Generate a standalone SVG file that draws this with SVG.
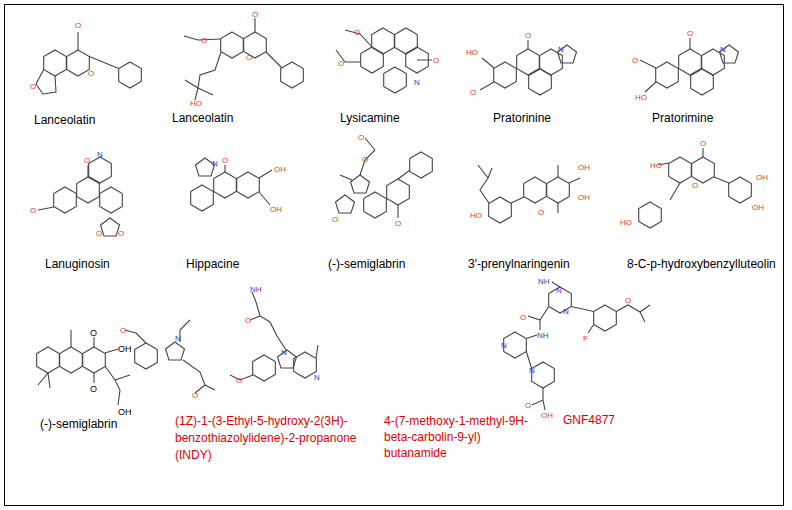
<svg xmlns="http://www.w3.org/2000/svg" width="792" height="510" viewBox="0 0 792 510">
<style>
.b{fill:none;stroke:#444;stroke-width:1.1}
.lb{font-family:"Liberation Sans",Arial,sans-serif;font-size:12px;fill:#000}
.rd{font-family:"Liberation Sans",Arial,sans-serif;font-size:12px;fill:#e00000}
.o{font-family:"Liberation Sans",Arial,sans-serif;font-size:8px;fill:#e33}
.n{font-family:"Liberation Sans",Arial,sans-serif;font-size:8px;fill:#33d}
.k{font-family:"Liberation Sans",Arial,sans-serif;font-size:9px;fill:#000}
</style>
<defs>
<polygon id="h" points="0,-13 11.3,-6.5 11.3,6.5 0,13 -11.3,6.5 -11.3,-6.5" fill="none" stroke="#444" stroke-width="1.1"/>
<polygon id="p" points="0,-10 9.5,-3 6,8 -6,8 -9.5,-3" fill="none" stroke="#444" stroke-width="1.1"/>
</defs>
<rect x="4.5" y="4.5" width="779" height="501" fill="#fff" stroke="#000"/>
<g id="c1"><use href="#h" x="55" y="63"/><use href="#h" x="78" y="63"/><use href="#h" x="130" y="75"/>
<path class="b" d="M89.3 56.5 L118.7 68.5 M78 50 V32 M43.7 69.5 L36 84 L43 94 L56 92 L55 76"/><text class="o" x="75" y="28">O</text><text class="o" x="88" y="76">O</text><text class="o" x="30" y="89">O</text>
<text class="lb" x="34" y="124">Lanceolatin</text></g>
<g id="c2"><use href="#h" x="232" y="45"/><use href="#h" x="255" y="45"/><use href="#h" x="292" y="75"/>
<path class="b" d="M266 52 L282 68 M255 32 V18 M221 39 L198 40 L184 36 M221 52 L215 70 L200 75 L198 88 L185 80 M198 88 L213 95 M198 88 L195 100"/>
<text class="o" x="252" y="17">O</text><text class="o" x="246" y="60">O</text><text class="o" x="201" y="43">O</text><text class="o" x="190" y="106">HO</text>
<text class="lb" x="172" y="122">Lanceolatin</text></g>
<g id="c3"><use href="#h" x="372" y="60"/><use href="#h" x="383" y="41"/><use href="#h" x="406" y="41"/><use href="#h" x="395" y="80"/><use href="#h" x="417" y="60"/>
<path class="b" d="M372 47 L360 34 L345 30 M361 62 L345 62 L336 50 M417 60 L432 60"/>
<text class="o" x="354" y="35">O</text><text class="o" x="338" y="66">O</text><text class="o" x="433" y="63">O</text><text class="n" x="414" y="85">N</text>
<text class="lb" x="340" y="122">Lysicamine</text></g>
<g id="c4"><use href="#h" x="505" y="75"/><use href="#h" x="528" y="62"/><use href="#h" x="540" y="82"/><use href="#h" x="551" y="62"/><use href="#p" x="567" y="55"/>
<path class="b" d="M528 49 V40 M494 68 L482 58 M494 82 L480 90"/>
<text class="o" x="525" y="38">O</text><text class="n" x="558" y="52">N</text><text class="o" x="466" y="55">HO</text><text class="o" x="470" y="95">O</text>
<text class="lb" x="493" y="122">Pratorinine</text></g>
<g id="c5"><use href="#h" x="667" y="75"/><use href="#h" x="690" y="62"/><use href="#h" x="702" y="82"/><use href="#h" x="713" y="62"/><use href="#p" x="729" y="55"/>
<path class="b" d="M690 49 V38 M656 68 L640 60 M656 82 L645 92"/>
<text class="o" x="687" y="36">O</text><text class="n" x="720" y="52">N</text><text class="o" x="632" y="63">O</text><text class="o" x="635" y="100">HO</text>
<text class="lb" x="652" y="122">Pratorimine</text></g>
<g id="c6"><use href="#h" x="65" y="200"/><use href="#h" x="88" y="190"/><use href="#h" x="100" y="170"/><use href="#h" x="111" y="200"/><use href="#p" x="110" y="228"/>
<path class="b" d="M88 177 V165 M54 207 L38 210"/>
<text class="o" x="84" y="163">O</text><text class="n" x="97" y="157">N</text><text class="o" x="30" y="213">O</text><text class="o" x="96" y="236">O</text><text class="o" x="118" y="236">O</text>
<text class="lb" x="45" y="268">Lanuginosin</text></g>
<g id="c7"><use href="#p" x="205" y="168"/><use href="#h" x="202" y="198"/><use href="#h" x="225" y="185"/><use href="#h" x="248" y="185"/>
<path class="b" d="M225 172 V165 M259 178 L272 170 M259 192 L270 205"/>
<text class="n" x="212" y="166">N</text><text class="o" x="222" y="163">O</text><text class="o" x="274" y="172">OH</text><text class="o" x="270" y="212">OH</text>
<text class="lb" x="186" y="268">Hippacine</text></g>
<g id="c8"><use href="#h" x="375" y="205"/><use href="#h" x="398" y="192"/><use href="#h" x="421" y="165"/><use href="#p" x="360" y="185"/><use href="#p" x="345" y="205"/>
<path class="b" d="M398 179 L410 170 M398 205 V218 M360 175 L365 160 L375 150 M375 150 L365 138 M352 180 L340 175"/>
<text class="o" x="395" y="226">O</text><text class="o" x="362" y="162">O</text><text class="o" x="358" y="140">O</text><text class="o" x="332" y="222">O</text>
<text class="lb" x="328" y="268">(-)-semiglabrin</text></g>
<g id="c9"><use href="#h" x="500" y="210"/><use href="#h" x="535" y="190"/><use href="#h" x="558" y="190"/>
<path class="b" d="M511 203 L524 197 M489 203 L480 190 L488 178 L478 165 M488 178 L492 168 M558 177 V165 M569 183 L580 178 M558 203 V213"/>
<text class="o" x="470" y="218">HO</text><text class="o" x="538" y="215">O</text><text class="o" x="578" y="170">OH</text><text class="o" x="578" y="200">OH</text>
<text class="lb" x="468" y="268">3'-prenylnaringenin</text></g>
<g id="c10"><use href="#h" x="680" y="170"/><use href="#h" x="703" y="170"/><use href="#h" x="740" y="190"/><use href="#h" x="650" y="215"/>
<path class="b" d="M714 177 L729 183 M680 183 L670 200 M703 157 V148 M669 163 L658 165"/>
<text class="o" x="700" y="146">O</text><text class="o" x="650" y="168">HO</text><text class="o" x="620" y="225">HO</text><text class="o" x="756" y="180">OH</text><text class="o" x="752" y="210">OH</text><text class="o" x="692" y="188">O</text>
<text class="lb" x="627" y="268">8-C-p-hydroxybenzylluteolin</text></g>
<g id="c11"><use href="#h" x="48" y="360"/><use href="#h" x="71" y="360"/><use href="#h" x="94" y="360"/>
<path class="b" d="M71 347 V330 M94 347 V337 M94 373 V383 M105 353 L118 349 M105 366 L115 380 L120 390 L118 405 M115 380 L130 375 M48 373 L38 385 M48 373 L50 388"/>
<text class="k" x="90" y="336">O</text><text class="k" x="90" y="392">O</text><text class="k" x="118" y="352">OH</text><text class="k" x="118" y="415">OH</text>
<text class="lb" x="40" y="428">(-)-semiglabrin</text></g>
<g id="c12"><use href="#h" x="146" y="356"/><use href="#p" x="175" y="352"/>
<path class="b" d="M146 343 L136 333 L125 330 M180 342 L180 330 L190 320 M183 360 L200 372 L205 385 L215 390 M205 385 L195 393"/>
<text class="o" x="120" y="333">O</text><text class="n" x="175" y="341">N</text><text class="o" x="192" y="398">O</text>
<text class="rd" x="175" y="425">(1Z)-1-(3-Ethyl-5-hydroxy-2(3H)-</text><text class="rd" x="175" y="442">benzothiazolylidene)-2-propanone</text><text class="rd" x="175" y="459">(INDY)</text></g>
<g id="c13"><use href="#h" x="264" y="368"/><use href="#p" x="287" y="360"/><use href="#h" x="305" y="365"/>
<path class="b" d="M286 350 L277 336 L270 322 L260 316 L256 302 L252 292 M260 316 L250 320 M316 358 L318 345 M253 375 L240 380 L230 375"/>
<text class="n" x="250" y="292">NH</text><text class="o" x="245" y="323">O</text><text class="n" x="281" y="355">N</text><text class="n" x="314" y="380">N</text><text class="o" x="236" y="383">O</text>
<text class="rd" x="384" y="425">4-(7-methoxy-1-methyl-9H-</text><text class="rd" x="384" y="441">beta-carbolin-9-yl)</text><text class="rd" x="384" y="457">butanamide</text></g>
<g id="c14"><use href="#h" x="560" y="300"/><use href="#h" x="515" y="345"/><use href="#h" x="605" y="318"/><use href="#h" x="543" y="375"/>
<path class="b" d="M548.7 306.5 L540 320 L528 316 M540 320 L540 330 M526.3 338.5 L537 335 M526.3 351.5 L531.7 368.5 M571.3 306.5 L593.7 311.5 M616.3 311.5 L628 305 L640 312 L650 305 M640 312 L645 322 M560 287 L552 282 M593.7 324.5 L588 333 M543 388 V400 L532 405 M543 400 L545 410"/>
<text class="n" x="538" y="284">NH</text><text class="n" x="556" y="293">N</text><text class="n" x="563" y="314">N</text><text class="o" x="520" y="320">O</text><text class="n" x="537" y="338">NH</text><text class="n" x="501" y="348">N</text><text class="n" x="529" y="373">N</text><text class="o" x="583" y="341">F</text><text class="o" x="625" y="303">O</text><text class="o" x="525" y="408">O</text><text class="o" x="541" y="418">OH</text>
<text class="rd" x="563" y="424">GNF4877</text></g>
<g id="connectors"/>
</svg>
